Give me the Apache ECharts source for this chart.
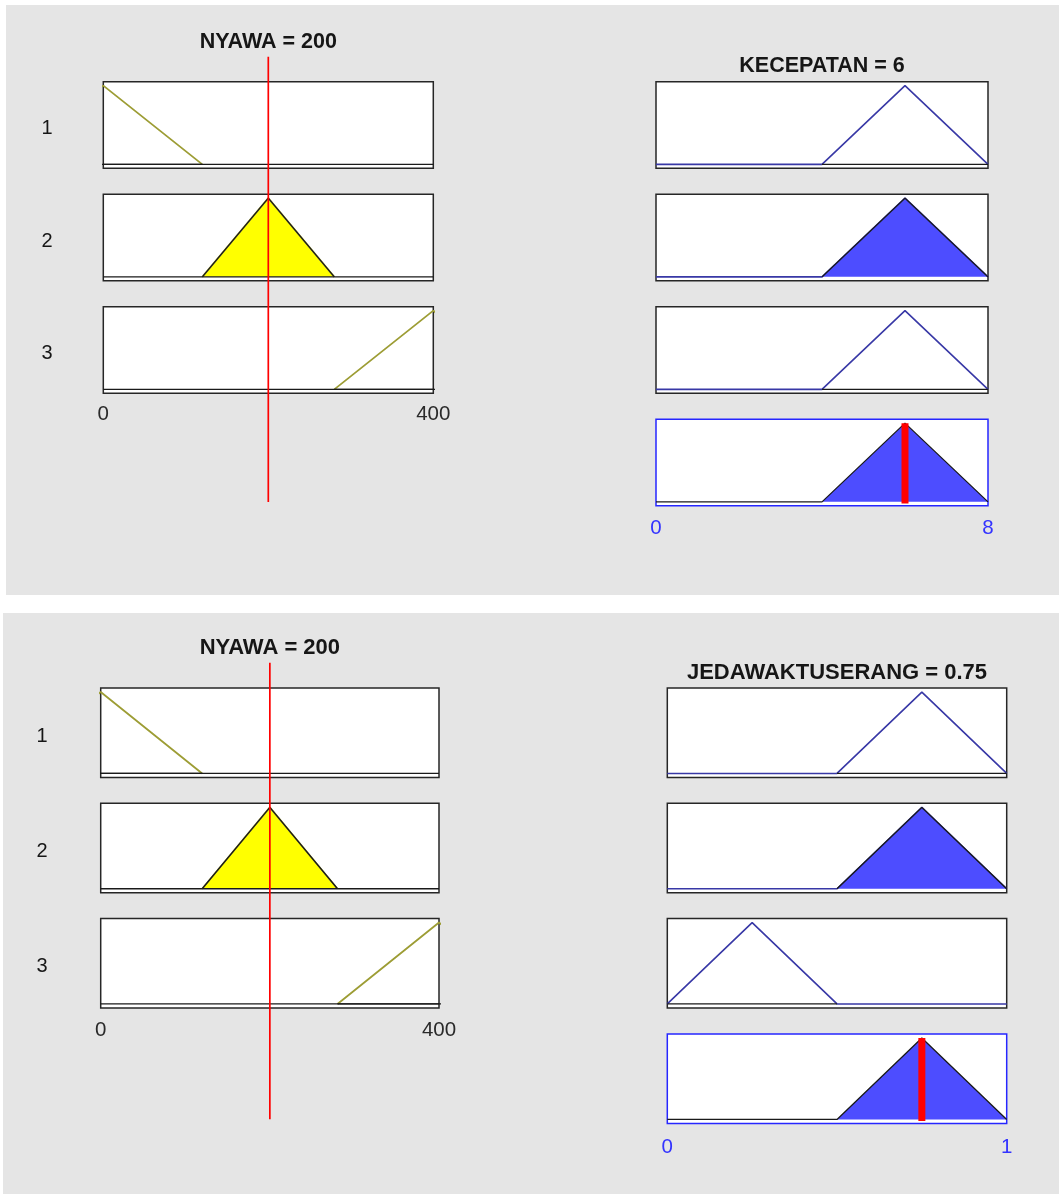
<!DOCTYPE html>
<html>
<head>
<meta charset="utf-8">
<title>Fuzzy rule viewer</title>
<script src="https://cdn.jsdelivr.net/npm/echarts@6/dist/echarts.min.js"></script>
<style>
  html, body { margin: 0; padding: 0; background: #ffffff; }
  #chart { width: 1059px; height: 1194px; }
</style>
</head>
<body>
<div id="chart"></div>
<script>
// ---- Input variable (shared by both rule sets) ----
const inputName = 'NYAWA';
const inputValue = 200;
const inputRange = [0, 400];
const inputMFs = [[-120, 0, 120], [120, 200, 280], [280, 400, 520]]; // triangular [a, b, c]

// ---- Output of the first rule set ----
const speedName = 'KECEPATAN';
const speedValue = 6;
const speedRange = [0, 8];
const speedRuleMFs = [[4, 6, 8], [4, 6, 8], [4, 6, 8]];

// ---- Output of the second rule set ----
const delayName = 'JEDAWAKTUSERANG';
const delayValue = 0.75;
const delayRange = [0, 1];
const delayRuleMFs = [[0.5, 0.75, 1], [0.5, 0.75, 1], [0, 0.25, 0.5]];

const ruleLabels = ['1', '2', '3'];

// ---- colours ----
const C = {
  panel: '#e5e5e5',
  box: '#262626',
  outBox: '#2626ff',
  inputLine: '#9d9d35',
  outputLine: '#3838a6',
  yellow: '#ffff00',
  fillBlue: '#4d4dff',
  edge: '#1a1a1a',
  red: '#ff0000',
  text: '#161616',
  tick: '#2a2a2a',
  outTick: '#3333ff'
};
const FONT = '"Liberation Sans", Arial, Helvetica, sans-serif';

// triangular membership
function trimf(x, p) {
  const [a, b, c] = p;
  const l = b > a ? (x - a) / (b - a) : (x >= b ? 1 : 0);
  const r = c > b ? (c - x) / (c - b) : (x <= b ? 1 : 0);
  return Math.max(0, Math.min(l, r));
}
// membership shape cut at the firing degree d
function clippedShape(p, d) {
  const [a, b, c] = p;
  if (d <= 0) return [[a, 0], [c, 0]];
  return [[a, 0], [a + d * (b - a), d], [c - d * (c - b), d], [c, 0]];
}
function clippedValue(x, p, d) { return Math.min(trimf(x, p), d); }
// max-aggregation of the clipped consequents over the output range
function aggregate(mfs, degrees, range) {
  const xs = new Set([range[0], range[1]]);
  mfs.forEach((p, i) => clippedShape(p, degrees[i]).forEach(pt => {
    if (pt[0] >= range[0] && pt[0] <= range[1]) xs.add(pt[0]);
  }));
  return [...xs].sort((u, v) => u - v).map(x => [x, Math.max(...mfs.map((p, i) => clippedValue(x, p, degrees[i])))]);
}

const degrees = inputMFs.map(p => trimf(inputValue, p));

// ---- panel geometry ----
const panels = [
  {
    bg: [6, 5, 1053, 590],
    left: { x: 103.3, w: 330 }, right: { x: 656, w: 332 },
    tops: [81.7, 194.2, 306.7, 419.2], h: 86.6,
    lineTop: 56.7, lineBottom: 502,
    titleInY: 42, titleOutY: 66, ruleX: 47, fs: 21.5, labelMargin: 11,
    outName: speedName, outValue: speedValue, outRange: speedRange, outMFs: speedRuleMFs
  },
  {
    bg: [3, 613, 1056, 581],
    left: { x: 100.7, w: 338.3 }, right: { x: 667.3, w: 339.4 },
    tops: [688, 803.3, 918.5, 1034], h: 89.5,
    lineTop: 662.7, lineBottom: 1119.3,
    titleInY: 647.5, titleOutY: 672.5, ruleX: 42, fs: 22, labelMargin: 12,
    outName: delayName, outValue: delayValue, outRange: delayRange, outMFs: delayRuleMFs
  }
];

const grids = [], xAxes = [], yAxes = [], series = [], graphics = [];

function addGrid(x, y, w, h, range, yr, opts) {
  const idx = grids.length;
  grids.push(Object.assign({
    left: x, top: y, width: w, height: h,
    show: true, backgroundColor: '#ffffff', borderColor: C.box, borderWidth: 1.5, containLabel: false
  }, opts.grid || {}));
  xAxes.push({
    type: 'value', gridIndex: idx, min: range[0], max: range[1],
    interval: range[1] - range[0],
    axisLine: { show: false }, axisTick: { show: false }, splitLine: { show: false },
    axisLabel: Object.assign({
      show: !!opts.labels, margin: opts.margin || 11,
      fontSize: opts.labelSize || 20, fontFamily: FONT, color: C.tick
    }, opts.labelStyle || {})
  });
  yAxes.push({
    type: 'value', gridIndex: idx, min: yr[0], max: yr[1],
    axisLine: { show: false }, axisTick: { show: false }, splitLine: { show: false }, axisLabel: { show: false }
  });
  return idx;
}
function line(idx, data, color, width, extra) {
  series.push(Object.assign({
    type: 'line', xAxisIndex: idx, yAxisIndex: idx, data: data,
    symbol: 'none', silent: true, animation: false, clip: true,
    lineStyle: { color: color, width: width }
  }, extra || {}));
}

const Y = [-0.05, 1.05];

panels.forEach(P => {
  graphics.push({
    type: 'rect', z: -10, silent: true,
    shape: { x: P.bg[0], y: P.bg[1], width: P.bg[2], height: P.bg[3] },
    style: { fill: C.panel }
  });

  // input column
  inputMFs.forEach((p, i) => {
    const last = i === inputMFs.length - 1;
    const g = addGrid(P.left.x, P.tops[i], P.left.w, P.h, inputRange, Y,
      { labels: last, margin: P.labelMargin, labelSize: 20.5 });
    line(g, [[p[0], 0], [p[1], 1], [p[2], 0]], C.inputLine, 1.8);
    line(g, [[inputRange[0], 0], [inputRange[1], 0]], C.edge, 1.3);
    const d = degrees[i];
    line(g, clippedShape(p, d), C.edge, 1.3,
      d > 0 ? { areaStyle: { color: C.yellow, opacity: 1, origin: 'auto' } } : {});
  });

  // output column, one box per rule
  P.outMFs.forEach((p, i) => {
    const g = addGrid(P.right.x, P.tops[i], P.right.w, P.h, P.outRange, Y, {});
    line(g, [[P.outRange[0], 0], [p[0], 0], [p[1], 1], [p[2], 0], [P.outRange[1], 0]], C.outputLine, 1.6);
    const d = degrees[i];
    line(g, clippedShape(p, d), C.edge, 1.3,
      d > 0 ? { areaStyle: { color: C.fillBlue, opacity: 1, origin: 'auto' } } : {});
  });

  // aggregated output with the crisp value
  const go = addGrid(P.right.x, P.tops[3], P.right.w, P.h, P.outRange, Y, {
    labels: true, margin: P.labelMargin + 1, labelSize: 20.5,
    grid: { borderColor: C.outBox },
    labelStyle: { color: C.outTick }
  });
  line(go, aggregate(P.outMFs, degrees, P.outRange), C.edge, 1.3,
    { areaStyle: { color: C.fillBlue, opacity: 1, origin: 'auto' } });
  line(go, [[P.outValue, -0.02], [P.outValue, 1.0]], C.red, 7, { z: 5 });

  // input value marker across the input column
  const gl = addGrid(P.left.x, P.lineTop, P.left.w, P.lineBottom - P.lineTop, inputRange, [0, 1],
    { grid: { show: false } });
  line(gl, [[inputValue, 0], [inputValue, 1]], C.red, 1.7, { z: 6 });

  // titles
  graphics.push({
    type: 'text', silent: true, x: P.left.x + P.left.w / 2, y: P.titleInY,
    style: { text: inputName + ' = ' + inputValue, font: 'bold ' + P.fs + 'px ' + FONT,
      fill: C.text, align: 'center', verticalAlign: 'middle' }
  });
  graphics.push({
    type: 'text', silent: true, x: P.right.x + P.right.w / 2, y: P.titleOutY,
    style: { text: P.outName + ' = ' + P.outValue, font: 'bold ' + P.fs + 'px ' + FONT,
      fill: C.text, align: 'center', verticalAlign: 'middle' }
  });
  // rule numbers
  ruleLabels.forEach((t, i) => {
    graphics.push({
      type: 'text', silent: true, x: P.ruleX, y: P.tops[i] + P.h / 2 + 3.5,
      style: { text: t, font: '20px ' + FONT, fill: C.text, align: 'center', verticalAlign: 'middle' }
    });
  });
});

const chart = echarts.init(document.getElementById('chart'), null, { renderer: 'canvas' });
chart.setOption({
  animation: false,
  backgroundColor: '#ffffff',
  grid: grids,
  xAxis: xAxes,
  yAxis: yAxes,
  series: series,
  graphic: graphics
});
</script>
</body>
</html>
